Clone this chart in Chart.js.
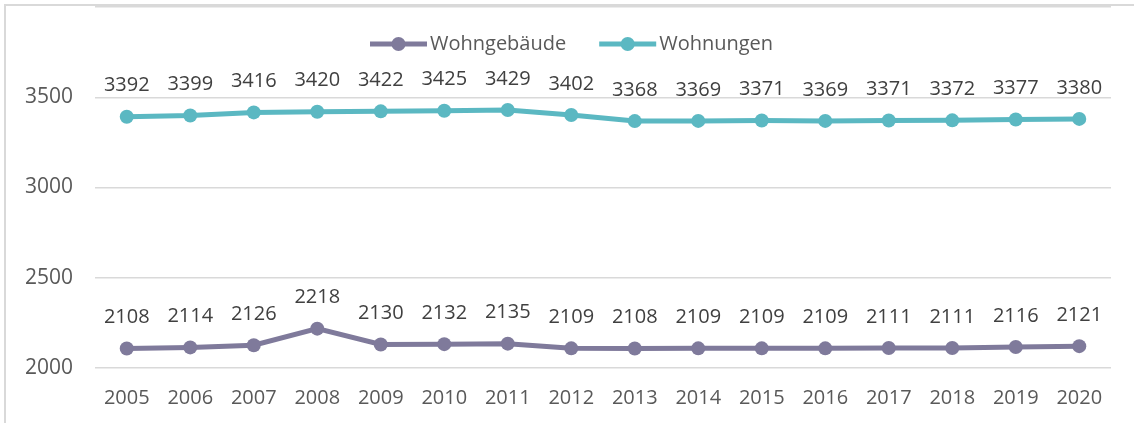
<!DOCTYPE html>
<html>
<head>
<meta charset="utf-8">
<script src="https://cdn.jsdelivr.net/npm/chart.js@4/dist/chart.umd.min.js"></script>
<style>
  html, body { margin: 0; padding: 0; background: #fff; }
  #wrap { width: 1134px; height: 423px; position: relative; }
</style>
</head>
<body>
<div id="wrap"><canvas id="chart" width="1134" height="423"></canvas></div>
<script>
'use strict';

/* ---- data ---- */
const years = ['2005', '2006', '2007', '2008', '2009', '2010', '2011', '2012',
               '2013', '2014', '2015', '2016', '2017', '2018', '2019', '2020'];
const wohngebaeude = [2108, 2114, 2126, 2218, 2130, 2132, 2135, 2109,
                      2108, 2109, 2109, 2109, 2111, 2111, 2116, 2121];
const wohnungen = [3392, 3399, 3416, 3420, 3422, 3425, 3429, 3402,
                   3368, 3369, 3371, 3369, 3371, 3372, 3377, 3380];
const yTicks = [2000, 2500, 3000, 3500];

const FONT = "'Open Sans', sans-serif";
const FONT_SIZE = 20;
const COL_PURPLE = '#7F7A9B';
const COL_TEAL = '#5BB8C2';

/* ---- frame, data labels and legend ---- */
const framePlugin = {
  id: 'frame',
  beforeDraw(chart) {
    const ctx = chart.ctx;
    ctx.save();
    ctx.strokeStyle = '#d9d9d9';
    ctx.lineWidth = 2;
    ctx.beginPath();
    ctx.moveTo(5, chart.height);
    ctx.lineTo(5, 5);
    ctx.lineTo(chart.width, 5);
    ctx.stroke();
    ctx.restore();
  }
};

const valueLabels = {
  id: 'valueLabels',
  afterDatasetsDraw(chart) {
    const ctx = chart.ctx;
    ctx.save();
    ctx.font = FONT_SIZE + 'px ' + FONT;
    ctx.fillStyle = '#404040';
    ctx.textAlign = 'center';
    ctx.textBaseline = 'middle';
    chart.data.datasets.forEach((ds, i) => {
      chart.getDatasetMeta(i).data.forEach((pt, j) => {
        ctx.fillText(String(ds.data[j]), pt.x, pt.y - 31);
      });
    });
    ctx.restore();
  }
};

const lineLegend = {
  id: 'lineLegend',
  afterDraw(chart) {
    const ctx = chart.ctx;
    const items = chart.data.datasets.map(ds => ({ text: ds.label, color: ds.borderColor }));
    const markW = 57, gap = 3, itemGap = 33;
    ctx.save();
    ctx.font = FONT_SIZE + 'px ' + FONT;
    let x = 370;
    const y = 44;
    items.forEach(it => {
      it.w = ctx.measureText(it.text).width;
      ctx.strokeStyle = it.color;
      ctx.lineWidth = 5;
      ctx.beginPath();
      ctx.moveTo(x, y);
      ctx.lineTo(x + markW, y);
      ctx.stroke();
      ctx.fillStyle = it.color;
      ctx.beginPath();
      ctx.arc(x + markW / 2, y, 7, 0, Math.PI * 2);
      ctx.fill();
      ctx.fillStyle = '#595959';
      ctx.textAlign = 'left';
      ctx.textBaseline = 'middle';
      ctx.fillText(it.text, x + markW + gap, y);
      x += markW + gap + it.w + itemGap;
    });
    ctx.restore();
  }
};

new Chart(document.getElementById('chart'), {
  type: 'line',
  data: {
    labels: years,
    datasets: [
      {
        label: 'Wohngebäude',
        data: wohngebaeude,
        borderColor: COL_PURPLE,
        backgroundColor: COL_PURPLE,
        borderWidth: 5,
        pointRadius: 7,
        pointBorderWidth: 0,
        tension: 0
      },
      {
        label: 'Wohnungen',
        data: wohnungen,
        borderColor: COL_TEAL,
        backgroundColor: COL_TEAL,
        borderWidth: 5,
        pointRadius: 7,
        pointBorderWidth: 0,
        tension: 0
      }
    ]
  },
  options: {
    responsive: false,
    animation: false,
    layout: { padding: { top: 5, right: 23, left: 0, bottom: 0 } },
    plugins: {
      legend: { display: false },
      tooltip: { enabled: false }
    },
    scales: {
      x: {
        offset: true,
        grid: { display: false, drawTicks: false },
        border: { display: false },
        ticks: { color: '#595959', font: { family: FONT, size: FONT_SIZE }, padding: 18, maxRotation: 0 },
        afterFit(scale) { scale.height = 55; }
      },
      y: {
        min: 2000,
        max: 4000,
        afterBuildTicks(scale) {
          scale.ticks = yTicks.concat([4000]).map(v => ({ value: v }));
        },
        grid: { color: '#d9d9d9', lineWidth: 1.5, drawTicks: false },
        border: { display: false },
        ticks: {
          color: '#595959',
          font: { family: FONT, size: 21 },
          padding: 22,
          callback: v => (yTicks.includes(v) ? String(v) : '')
        },
        afterFit(scale) {
          scale.width = 95;
          scale.paddingTop = 0;
          scale.paddingBottom = 0;
        }
      }
    }
  },
  plugins: [framePlugin, valueLabels, lineLegend]
});
</script>
</body>
</html>
